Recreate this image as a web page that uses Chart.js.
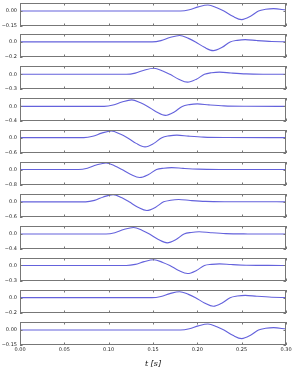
<!DOCTYPE html>
<html>
<head>
<meta charset="utf-8">
<script src="https://cdn.jsdelivr.net/npm/chart.js@4"></script>
<style>
  html, body { margin: 0; padding: 0; background: #fff; }
  #wrap { position: relative; width: 295px; height: 372px; overflow: hidden; }
  .panel { position: absolute; left: 0; width: 295px; }
  .panel canvas { display: block; }
</style>
</head>
<body>
<div id="wrap"></div>
<script>
// traces, one per receiver, [t (s), amplitude]
const trace1 = [[0,0],[0.181,0],[0.191,0.012],[0.201,0.041],[0.212,0.06],[0.222,0.033],[0.230,0],[0.240,-0.053],[0.250,-0.086],[0.260,-0.053],[0.269,0],[0.277,0.017],[0.286,0.024],[0.30,0.01]];
const trace2 = [[0,0],[0.149,0],[0.159,0.017],[0.169,0.058],[0.180,0.086],[0.190,0.047],[0.198,0],[0.208,-0.072],[0.218,-0.116],[0.228,-0.072],[0.237,0],[0.245,0.021],[0.254,0.03],[0.267,0.018],[0.284,0.006],[0.30,0.002]];
const trace3 = [[0,0],[0.120,0],[0.130,0.025],[0.140,0.085],[0.151,0.125],[0.161,0.069],[0.169,0],[0.179,-0.099],[0.189,-0.16],[0.199,-0.099],[0.208,0],[0.216,0.032],[0.225,0.045],[0.238,0.027],[0.255,0.009],[0.28,0.002],[0.30,0]];
const trace4 = [[0,0],[0.095,0],[0.105,0.036],[0.115,0.122],[0.126,0.18],[0.136,0.099],[0.144,0],[0.154,-0.152],[0.164,-0.245],[0.174,-0.152],[0.183,0],[0.191,0.048],[0.200,0.068],[0.213,0.041],[0.230,0.014],[0.255,0.003],[0.30,0]];
const trace5 = [[0,0],[0.072,0],[0.082,0.052],[0.092,0.177],[0.103,0.26],[0.113,0.143],[0.121,0],[0.131,-0.223],[0.141,-0.36],[0.151,-0.223],[0.160,0],[0.168,0.07],[0.177,0.10],[0.190,0.06],[0.207,0.02],[0.232,0.005],[0.30,0]];
const trace6 = [[0,0],[0.066,0],[0.076,0.068],[0.086,0.231],[0.097,0.34],[0.107,0.187],[0.115,0],[0.125,-0.254],[0.135,-0.41],[0.145,-0.254],[0.154,0],[0.162,0.07],[0.171,0.10],[0.184,0.06],[0.201,0.02],[0.226,0.005],[0.30,0]];
const trace7 = [[0,0],[0.074,0],[0.084,0.057],[0.094,0.194],[0.105,0.285],[0.115,0.157],[0.123,0],[0.133,-0.211],[0.143,-0.34],[0.153,-0.211],[0.162,0],[0.170,0.063],[0.179,0.09],[0.192,0.054],[0.209,0.018],[0.234,0.005],[0.30,0]];
const trace8 = [[0,0],[0.097,0],[0.107,0.035],[0.117,0.119],[0.128,0.175],[0.138,0.096],[0.146,0],[0.156,-0.146],[0.166,-0.235],[0.176,-0.146],[0.185,0],[0.193,0.042],[0.202,0.06],[0.215,0.036],[0.232,0.012],[0.257,0.003],[0.30,0]];
const trace9 = [[0,0],[0.120,0],[0.130,0.022],[0.140,0.075],[0.151,0.11],[0.161,0.06],[0.169,0],[0.179,-0.097],[0.189,-0.156],[0.199,-0.097],[0.208,0],[0.216,0.022],[0.225,0.032],[0.238,0.019],[0.255,0.006],[0.28,0.002],[0.30,0]];
const trace10 = [[0,0],[0.149,0],[0.159,0.016],[0.169,0.053],[0.180,0.078],[0.190,0.043],[0.198,0],[0.208,-0.069],[0.218,-0.112],[0.228,-0.069],[0.237,0],[0.245,0.021],[0.254,0.03],[0.267,0.018],[0.284,0.006],[0.30,0.002]];
const trace11 = [[0,0],[0.181,0],[0.191,0.012],[0.201,0.041],[0.212,0.06],[0.222,0.033],[0.230,0],[0.240,-0.053],[0.250,-0.086],[0.260,-0.053],[0.269,0],[0.277,0.017],[0.286,0.024],[0.30,0.01]];

const traces = [trace1, trace2, trace3, trace4, trace5, trace6, trace7, trace8, trace9, trace10, trace11];
const yMins = [-0.15, -0.2, -0.3, -0.4, -0.6, -0.8, -0.6, -0.4, -0.3, -0.2, -0.15];
const yMaxs = [0.08, 0.105, 0.17, 0.23, 0.30, 0.39, 0.31, 0.215, 0.145, 0.10, 0.08];
const yDecimals = [2, 1, 1, 1, 1, 1, 1, 1, 1, 1, 2];
const xTicks = [0, 0.05, 0.10, 0.15, 0.20, 0.25, 0.30];

const panelTops = [3, 34, 66, 98, 130, 162, 194, 226, 258, 290, 322];
const PANEL_H = 23;
const PAD = 4;
const LINE = '#6462dc';
const FRAME = '#777';

// frame, inward ticks and y labels, matplotlib style
const framePlugin = {
    id: 'frame',
    afterDatasetsDraw(chart, args, opts) {
        const { ctx, chartArea: a, scales } = chart;
        ctx.save();
        ctx.strokeStyle = FRAME;
        ctx.lineWidth = 1;
        ctx.strokeRect(a.left + 0.5, a.top + 0.5, a.right - a.left - 1, a.bottom - a.top - 1);
        ctx.beginPath();
        xTicks.forEach(v => {
            const px = Math.round(scales.x.getPixelForValue(v)) + 0.5;
            ctx.moveTo(px, a.top); ctx.lineTo(px, a.top + 2.5);
            ctx.moveTo(px, a.bottom); ctx.lineTo(px, a.bottom - 2.5);
        });
        const yVals = [opts.min, 0];
        yVals.forEach(v => {
            const py = Math.round(scales.y.getPixelForValue(v)) + 0.5;
            ctx.moveTo(a.left, py); ctx.lineTo(a.left + 2.5, py);
            ctx.moveTo(a.right, py); ctx.lineTo(a.right - 2.5, py);
        });
        ctx.stroke();
        ctx.fillStyle = '#222';
        ctx.font = '5px "DejaVu Sans"';
        ctx.textAlign = 'right';
        ctx.textBaseline = 'middle';
        yVals.forEach(v => {
            const txt = (v < 0 ? '\u2212' : '') + Math.abs(v).toFixed(opts.dec);
            ctx.fillText(txt, a.left - 3, scales.y.getPixelForValue(v));
        });
        ctx.restore();
    }
};

function buildChart(div, i, h) {
    const last = i === traces.length - 1;
    div.innerHTML = '';
    div.style.height = h + 'px';
    const canvas = document.createElement('canvas');
    canvas.width = 295;
    canvas.height = h;
    div.appendChild(canvas);

    const xScale = {
        type: 'linear',
        min: 0,
        max: 0.3,
        display: last,
        grid: { display: false, drawTicks: false },
        border: { display: false },
        ticks: {
            stepSize: 0.05,
            padding: 2,
            color: '#222',
            font: { family: 'DejaVu Sans', size: 5 },
            callback: v => v.toFixed(2)
        }
    };
    if (last) {
        xScale.title = {
            display: true,
            text: 't [s]',
            color: '#111',
            padding: { top: 0, bottom: 3 },
            font: { family: 'DejaVu Serif', size: 8, style: 'italic' }
        };
        xScale.afterFit = s => { s.height = 27; };
    } else {
        xScale.afterFit = s => { s.height = 0; };
    }

    return new Chart(canvas, {
        type: 'line',
        data: {
            datasets: [{
                data: traces[i].map(p => ({ x: p[0], y: p[1] })),
                borderColor: LINE,
                borderWidth: 1.1,
                pointRadius: 0,
                cubicInterpolationMode: 'monotone',
                fill: false
            }]
        },
        options: {
            responsive: false,
            animation: false,
            devicePixelRatio: 1,
            layout: { padding: { top: PAD, bottom: last ? 0 : PAD, left: 0, right: 9 } },
            plugins: {
                legend: { display: false },
                tooltip: { enabled: false },
                frame: { min: yMins[i], dec: yDecimals[i] }
            },
            scales: {
                x: xScale,
                y: {
                    min: yMins[i],
                    max: yMaxs[i],
                    grid: { display: false, drawTicks: false },
                    border: { display: false },
                    ticks: { display: false },
                    afterFit: s => { s.width = 20; }
                }
            }
        },
        plugins: [framePlugin]
    });
}

function makePanel(i) {
    const last = i === traces.length - 1;
    const div = document.createElement('div');
    div.className = 'panel';
    document.getElementById('wrap').appendChild(div);
    let h = last ? PANEL_H + PAD + 27 : PANEL_H + 2 * PAD;
    let chart = buildChart(div, i, h);
    // make sure the plot box is PANEL_H tall
    for (let k = 0; k < 3; k++) {
        const a = chart.chartArea;
        const diff = PANEL_H - Math.round(a.bottom - a.top);
        if (diff === 0) break;
        chart.destroy();
        h += diff;
        chart = buildChart(div, i, h);
    }
    div.style.top = (panelTops[i] - Math.round(chart.chartArea.top)) + 'px';
}

traces.forEach((t, i) => makePanel(i));
</script>
</body>
</html>
